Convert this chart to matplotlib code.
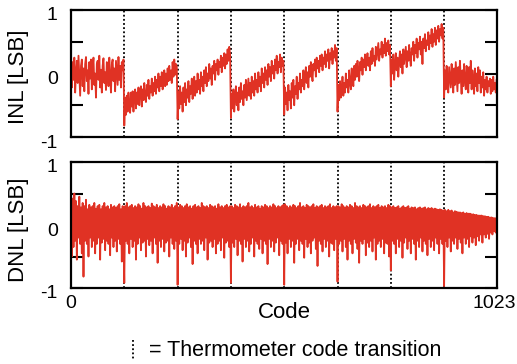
import numpy as np
import matplotlib.pyplot as plt
from matplotlib.lines import Line2D
from matplotlib.transforms import ScaledTranslation

plt.rcParams['font.family'] = ['Liberation Sans', 'DejaVu Sans']

# every 2nd code is plotted
codes = np.arange(0, 1024, 2)
transitions = [128, 256, 384, 512, 640, 768, 896]

# INL [LSB], 64 values per thermometer segment
inl_seg0 = [0.05, -0.22, 0.18, -0.1, 0.25, -0.3, 0.02, 0.2, -0.15, 0.28, -0.05, -0.35, 0.12, 0.22, -0.2, 0.08,
            -0.28, 0.15, 0.26, -0.12, 0.05, -0.32, 0.18, -0.08, 0.22, -0.25, 0.1, 0.25, -0.18, 0.0, -0.38, 0.15,
            0.2, -0.1, 0.28, -0.22, 0.06, -0.3, 0.12, 0.24, -0.15, 0.02, -0.26, 0.18, 0.1, -0.2, 0.25, -0.06,
            -0.3, 0.15, 0.22, -0.12, 0.08, -0.28, 0.2, 0.0, -0.18, 0.26, -0.1, 0.12, -0.22, 0.18, 0.05, 0.22]
inl_seg1 = [-0.82, -0.38, -0.65, -0.35, -0.6, -0.3, -0.55, -0.62, -0.3, -0.52, -0.28, -0.6, -0.35, -0.25, -0.55, -0.3,
            -0.48, -0.22, -0.5, -0.3, -0.2, -0.52, -0.25, -0.42, -0.15, -0.38, -0.45, -0.18, -0.35, -0.1, -0.4, -0.2,
            -0.3, -0.08, -0.35, -0.15, -0.28, -0.05, -0.32, -0.1, -0.22, 0.0, -0.28, -0.05, -0.2, 0.02, -0.25, -0.12,
            0.05, -0.2, 0.0, -0.18, 0.08, -0.12, 0.12, -0.1, 0.05, -0.15, 0.18, -0.05, 0.22, -0.02, 0.15, 0.1]
inl_seg2 = [-0.72, -0.28, -0.55, -0.2, -0.48, -0.3, -0.6, -0.22, -0.45, -0.15, -0.5, -0.25, -0.38, -0.12, -0.45, -0.2,
            -0.32, -0.08, -0.4, -0.18, -0.05, -0.35, -0.12, -0.3, 0.0, -0.25, -0.1, -0.32, 0.02, -0.2, -0.05, -0.28,
            0.05, -0.15, 0.1, -0.2, 0.0, -0.12, 0.15, -0.08, 0.08, -0.18, 0.12, 0.0, 0.2, -0.1, 0.15, 0.05,
            0.22, -0.02, 0.18, 0.1, 0.28, 0.02, 0.25, 0.12, 0.32, 0.08, 0.3, 0.15, 0.38, 0.2, 0.42, 0.3]
inl_seg3 = [-0.7, -0.32, -0.55, -0.25, -0.6, -0.38, -0.2, -0.5, -0.3, -0.58, -0.22, -0.45, -0.15, -0.4, -0.28, -0.5,
            -0.18, -0.38, -0.1, -0.42, -0.25, -0.08, -0.35, -0.15, -0.4, -0.05, -0.3, -0.12, -0.35, 0.0, -0.25, -0.1,
            -0.3, 0.02, -0.2, -0.05, -0.28, 0.08, -0.15, 0.0, -0.22, 0.1, -0.1, 0.05, -0.18, 0.15, -0.05, 0.1,
            -0.12, 0.2, 0.0, 0.12, -0.08, 0.22, 0.05, 0.28, 0.0, 0.18, 0.1, 0.3, 0.02, 0.25, 0.12, 0.2]
inl_seg4 = [-0.65, -0.22, -0.48, -0.3, -0.58, -0.18, -0.42, -0.28, -0.55, -0.15, -0.38, -0.1, -0.5, -0.2, -0.32, -0.05,
            -0.4, -0.15, -0.25, 0.0, -0.3, -0.1, -0.2, 0.05, -0.25, -0.05, 0.1, -0.15, 0.02, -0.22, 0.12, -0.05,
            0.18, 0.0, -0.12, 0.15, 0.05, 0.22, -0.05, 0.25, 0.08, 0.2, 0.02, 0.28, 0.12, 0.3, 0.05, 0.25,
            0.15, 0.35, 0.1, 0.3, 0.2, 0.38, 0.08, 0.32, 0.22, 0.4, 0.15, 0.35, 0.25, 0.45, 0.2, 0.4]
inl_seg5 = [-0.6, -0.18, -0.42, -0.12, -0.38, -0.25, -0.05, -0.35, -0.15, -0.3, 0.0, -0.22, -0.1, -0.3, 0.05, -0.15,
            -0.25, 0.08, -0.05, -0.2, 0.12, -0.1, 0.15, -0.05, 0.2, 0.0, -0.12, 0.18, 0.05, 0.25, -0.02, 0.22,
            0.1, 0.3, 0.05, 0.2, 0.32, 0.12, 0.25, 0.05, 0.35, 0.15, 0.4, 0.2, 0.28, 0.12, 0.42, 0.22,
            0.35, 0.48, 0.2, 0.38, 0.3, 0.5, 0.25, 0.45, 0.32, 0.55, 0.28, 0.48, 0.35, 0.52, 0.3, 0.45]
inl_seg6 = [-0.2, 0.22, 0.0, 0.3, -0.1, 0.15, 0.32, 0.05, 0.25, -0.05, 0.2, 0.35, 0.1, 0.3, 0.0, 0.38,
            0.15, 0.28, 0.42, 0.1, 0.35, 0.2, 0.45, 0.25, 0.12, 0.4, 0.3, 0.5, 0.2, 0.45, 0.32, 0.55,
            0.25, 0.48, 0.38, 0.58, 0.3, 0.5, 0.15, 0.55, 0.4, 0.62, 0.35, 0.52, 0.45, 0.65, 0.38, 0.6,
            0.48, 0.7, 0.42, 0.62, 0.5, 0.72, 0.45, 0.68, 0.55, 0.75, 0.5, 0.7, 0.6, 0.78, 0.55, 0.72]
inl_seg7 = [-0.38, 0.05, -0.25, 0.12, -0.15, -0.3, 0.1, -0.05, -0.22, 0.15, -0.1, -0.3, 0.08, -0.18, 0.18, -0.05,
            -0.28, 0.1, -0.15, 0.2, -0.08, -0.32, 0.05, -0.2, 0.15, -0.1, -0.25, 0.12, -0.02, -0.3, 0.1, -0.15,
            0.2, -0.25, 0.05, -0.12, -0.32, 0.08, -0.2, 0.0, -0.28, 0.1, -0.15, 0.05, -0.3, -0.05, -0.22, 0.02,
            -0.35, -0.1, -0.25, -0.05, -0.3, -0.12, -0.2, -0.08, -0.32, -0.1, -0.28, -0.05, -0.25, -0.15, -0.3, -0.1]

# DNL [LSB], 64 values per thermometer segment
dnl_seg0 = [0.55, -0.5, 0.42, -0.35, 0.5, -0.25, 0.38, -0.55, 0.3, -0.2, 0.45, -0.3, 0.28, -0.45, 0.35, -0.82,
            0.3, -0.25, 0.4, -0.3, 0.25, -0.5, 0.32, -0.2, 0.28, -0.35, 0.3, -0.25, 0.35, -0.45, 0.26, -0.3,
            0.3, -0.2, 0.32, -0.55, 0.25, -0.28, 0.3, -0.22, 0.35, -0.4, 0.28, -0.25, 0.3, -0.3, 0.25, -0.48,
            0.32, -0.2, 0.28, -0.35, 0.3, -0.25, 0.27, -0.42, 0.3, -0.22, 0.33, -0.3, 0.25, -0.58, 0.3, -0.25]
dnl_seg1 = [-0.92, 0.3, -0.25, 0.35, -0.3, 0.28, -0.45, 0.3, -0.22, 0.32, -0.35, 0.27, -0.25, 0.3, -0.55, 0.28,
            -0.3, 0.33, -0.2, 0.3, -0.4, 0.26, -0.28, 0.35, -0.25, 0.3, -0.5, 0.28, -0.22, 0.3, -0.32, 0.27,
            -0.25, 0.34, -0.45, 0.3, -0.2, 0.28, -0.3, 0.32, -0.6, 0.27, -0.25, 0.3, -0.35, 0.28, -0.22, 0.33,
            -0.42, 0.3, -0.28, 0.26, -0.25, 0.3, -0.5, 0.28, -0.2, 0.32, -0.3, 0.27, -0.38, 0.3, -0.25, 0.35]
dnl_seg2 = [-0.95, 0.28, -0.3, 0.32, -0.22, 0.3, -0.4, 0.27, -0.25, 0.3, -0.5, 0.33, -0.28, 0.28, -0.2, 0.3,
            -0.35, 0.26, -0.62, 0.3, -0.25, 0.32, -0.3, 0.28, -0.45, 0.3, -0.22, 0.27, -0.3, 0.35, -0.25, 0.3,
            -0.4, 0.28, -0.2, 0.3, -0.55, 0.27, -0.28, 0.32, -0.25, 0.3, -0.35, 0.28, -0.22, 0.3, -0.45, 0.26,
            -0.3, 0.33, -0.25, 0.28, -0.4, 0.3, -0.2, 0.27, -0.52, 0.3, -0.28, 0.32, -0.25, 0.28, -0.35, 0.3]
dnl_seg3 = [-0.92, 0.3, -0.28, 0.27, -0.35, 0.32, -0.22, 0.3, -0.48, 0.28, -0.25, 0.33, -0.3, 0.27, -0.58, 0.3,
            -0.22, 0.28, -0.35, 0.3, -0.25, 0.35, -0.42, 0.28, -0.3, 0.3, -0.2, 0.27, -0.5, 0.32, -0.25, 0.28,
            -0.3, 0.3, -0.38, 0.26, -0.22, 0.3, -0.45, 0.28, -0.25, 0.32, -0.3, 0.3, -0.62, 0.27, -0.22, 0.3,
            -0.35, 0.28, -0.25, 0.33, -0.42, 0.3, -0.28, 0.27, -0.2, 0.3, -0.48, 0.28, -0.25, 0.3, -0.3, 0.32]
dnl_seg4 = [-0.95, 0.33, -0.28, 0.3, -0.45, 0.27, -0.22, 0.3, -0.35, 0.28, -0.25, 0.32, -0.6, 0.3, -0.3, 0.27,
            -0.22, 0.3, -0.4, 0.35, -0.25, 0.28, -0.3, 0.3, -0.52, 0.27, -0.22, 0.32, -0.35, 0.3, -0.28, 0.28,
            -0.45, 0.3, -0.25, 0.33, -0.2, 0.27, -0.38, 0.3, -0.65, 0.28, -0.25, 0.3, -0.3, 0.32, -0.42, 0.27,
            -0.22, 0.3, -0.35, 0.28, -0.25, 0.3, -0.5, 0.33, -0.28, 0.27, -0.3, 0.3, -0.4, 0.28, -0.22, 0.3]
dnl_seg5 = [-0.9, 0.3, -0.3, 0.28, -0.25, 0.33, -0.42, 0.3, -0.22, 0.27, -0.35, 0.3, -0.55, 0.28, -0.25, 0.32,
            -0.3, 0.3, -0.45, 0.27, -0.22, 0.35, -0.28, 0.3, -0.38, 0.28, -0.6, 0.3, -0.25, 0.27, -0.3, 0.32,
            -0.22, 0.3, -0.48, 0.28, -0.28, 0.3, -0.35, 0.33, -0.25, 0.27, -0.42, 0.3, -0.2, 0.28, -0.55, 0.3,
            -0.3, 0.32, -0.25, 0.27, -0.35, 0.3, -0.22, 0.28, -0.45, 0.3, -0.28, 0.27, -0.3, 0.32, -0.5, 0.3]
dnl_seg6 = [-0.72, 0.28, -0.25, 0.3, -0.3, 0.27, -0.45, 0.28, -0.22, 0.3, -0.35, 0.26, -0.25, 0.28, -0.52, 0.3,
            -0.28, 0.27, -0.2, 0.28, -0.38, 0.3, -0.25, 0.26, -0.45, 0.28, -0.22, 0.27, -0.3, 0.28, -0.55, 0.25,
            -0.25, 0.27, -0.35, 0.28, -0.2, 0.26, -0.42, 0.27, -0.25, 0.28, -0.3, 0.25, -0.48, 0.27, -0.22, 0.26,
            -0.35, 0.27, -0.25, 0.25, -0.4, 0.26, -0.2, 0.25, -0.3, 0.24, -0.45, 0.25, -0.22, 0.24, -0.3, 0.23]
dnl_seg7 = [-0.97, 0.24, -0.25, 0.22, -0.35, 0.24, -0.2, 0.22, -0.42, 0.23, -0.25, 0.2, -0.3, 0.22, -0.2, 0.21,
            -0.38, 0.2, -0.22, 0.2, -0.28, 0.19, -0.45, 0.2, -0.2, 0.18, -0.3, 0.19, -0.22, 0.18, -0.35, 0.18,
            -0.18, 0.17, -0.28, 0.17, -0.2, 0.16, -0.32, 0.16, -0.18, 0.15, -0.25, 0.15, -0.15, 0.15, -0.28, 0.14,
            -0.15, 0.14, -0.2, 0.13, -0.14, 0.13, -0.22, 0.12, -0.12, 0.12, -0.15, 0.11, -0.1, 0.11, -0.12, 0.1]

inl = np.concatenate([inl_seg0, inl_seg1, inl_seg2, inl_seg3, inl_seg4, inl_seg5, inl_seg6, inl_seg7])
dnl = np.concatenate([dnl_seg0, dnl_seg1, dnl_seg2, dnl_seg3, dnl_seg4, dnl_seg5, dnl_seg6, dnl_seg7])

red = '#e03224'
W, H = 517, 364

fig = plt.figure(figsize=(W / 100, H / 100), dpi=100)
ax1 = fig.add_axes([71 / W, 1 - 137 / H, 426 / W, 127 / H])
ax2 = fig.add_axes([71 / W, 1 - 288 / H, 426 / W, 126 / H])

# tick labels sit a little lower than the tick in the original
shift = ScaledTranslation(0, -4 / 100, fig.dpi_scale_trans)

for ax, y in [(ax1, inl), (ax2, dnl)]:
    for t in transitions:
        ax.axvline(t, color='black', ls=(0, (1, 1.3)), lw=1.3, zorder=1)
    ax.plot(codes, y, color=red, lw=1.3, zorder=2)
    ax.set_xlim(0, 1023)
    ax.set_ylim(-1, 1)
    ax.set_yticks([-1, -0.5, 0, 0.5, 1])
    ax.set_yticklabels(['-1', '', '0', '', '1'])
    ax.tick_params(axis='y', direction='in', length=8.5, width=1.5, left=True, right=True, pad=9.5, labelsize=14)
    for lbl in ax.get_yticklabels():
        lbl.set_transform(lbl.get_transform() + shift)
    for s in ax.spines.values():
        s.set_linewidth(1.6)

ax1.set_xticks([])
ax2.set_xticks([0, 1023])
ax2.set_xticklabels(['0', '1023'])
ax2.tick_params(axis='x', length=0, pad=5, labelsize=14)
# keep 1023 inside the figure
last = ax2.get_xticklabels()[-1]
last.set_transform(last.get_transform() + ScaledTranslation(-3 / 100, 0, fig.dpi_scale_trans))

fig.text(18.5 / W, 1 - 77 / H, 'INL [LSB]', rotation=90, ha='center', va='center', fontsize=16)
fig.text(18.5 / W, 1 - 230 / H, 'DNL [LSB]', rotation=90, ha='center', va='center', fontsize=16)
fig.text(284 / W, 1 - 313 / H, 'Code', ha='center', va='center', fontsize=16)

# legend for dotted lines
fig.add_artist(Line2D([133 / W, 133 / W], [1 - 340 / H, 1 - 360 / H], transform=fig.transFigure,
                      color='black', ls=(0, (1, 1.3)), lw=1.3))
fig.text(149 / W, 1 - 350 / H, '= Thermometer code transition', ha='left', va='center', fontsize=15.5)

fig.savefig('out.png', dpi=100)
